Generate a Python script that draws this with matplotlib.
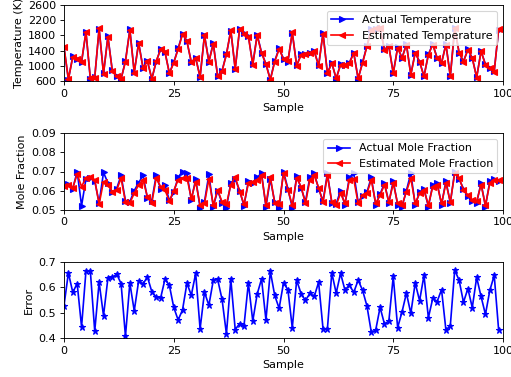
import numpy as np
import matplotlib
matplotlib.use("Agg")
import matplotlib.pyplot as plt

# values (100 samples)
samples = np.arange(100)

temp_est = [1500, 650, 1230, 1180, 1110, 1900, 670, 690, 1990, 790,
            1760, 870, 720, 660, 1110, 1940, 820, 1590, 940, 1120,
            660, 1120, 1430, 1360, 800, 1080, 1440, 1830, 1640, 1100,
            1200, 700, 1800, 1100, 1580, 720, 860, 1300, 1940, 910,
            1980, 1850, 1770, 1030, 1800, 1335, 1040, 630, 1110, 1440,
            1175, 1120, 1880, 1000, 1290, 1310, 1335, 1380, 1000, 1850,
            800, 1070, 670, 1030, 1030, 1070, 1330, 670, 1070, 1510,
            1950, 1990, 1990, 1420, 1510, 800, 1470, 1200, 1560, 760,
            1340, 1100, 720, 1290, 1560, 1200, 1070, 1560, 720, 2000,
            1340, 1110, 1420, 1200, 690, 1380, 1030, 940, 850, 1960]

temp_act = [1480, 640, 1250, 1190, 1100, 1880, 660, 700, 1970, 800,
            1780, 880, 730, 650, 1130, 1960, 830, 1610, 950, 1140,
            650, 1110, 1440, 1370, 810, 1090, 1460, 1850, 1650, 1090,
            1210, 710, 1810, 1110, 1600, 730, 870, 1310, 1920, 920,
            1960, 1860, 1790, 1040, 1820, 1350, 1050, 640, 1130, 1460,
            1190, 1110, 1870, 1010, 1300, 1320, 1350, 1390, 1010, 1870,
            810, 1080, 660, 1040, 1020, 1080, 1350, 660, 1090, 1520,
            1970, 1980, 2000, 1430, 1520, 810, 1490, 1210, 1570, 770,
            1350, 1110, 730, 1300, 1570, 1210, 1080, 1570, 730, 1990,
            1350, 1120, 1430, 1210, 700, 1390, 1040, 950, 860, 1950]

mole_est = [0.0624, 0.0630, 0.0615, 0.0686, 0.0620, 0.0668, 0.0673, 0.0656, 0.0528, 0.0647,
            0.0630, 0.0594, 0.0603, 0.0665, 0.0540, 0.0535, 0.0585, 0.0630, 0.0656, 0.0567,
            0.0535, 0.0665, 0.0620, 0.0603, 0.0544, 0.0600, 0.0656, 0.0665, 0.0668, 0.0558,
            0.0647, 0.0523, 0.0532, 0.0660, 0.0523, 0.0603, 0.0540, 0.0528, 0.0630, 0.0673,
            0.0594, 0.0528, 0.0638, 0.0647, 0.0656, 0.0680, 0.0523, 0.0673, 0.0532, 0.0527,
            0.0690, 0.0603, 0.0523, 0.0665, 0.0620, 0.0532, 0.0656, 0.0680, 0.0615, 0.0537,
            0.0680, 0.0540, 0.0523, 0.0585, 0.0532, 0.0656, 0.0660, 0.0532, 0.0576, 0.0585,
            0.0656, 0.0532, 0.0576, 0.0630, 0.0540, 0.0638, 0.0532, 0.0523, 0.0594, 0.0665,
            0.0532, 0.0585, 0.0603, 0.0523, 0.0620, 0.0630, 0.0532, 0.0638, 0.0540, 0.0690,
            0.0665, 0.0603, 0.0576, 0.0550, 0.0544, 0.0630, 0.0523, 0.0638, 0.0656, 0.0656]

mole_act = [0.0620, 0.0634, 0.0610, 0.0700, 0.0520, 0.0660, 0.0668, 0.0650, 0.0535, 0.0695,
            0.0640, 0.0590, 0.0610, 0.0680, 0.0545, 0.0540, 0.0600, 0.0640, 0.0680, 0.0560,
            0.0545, 0.0680, 0.0610, 0.0630, 0.0548, 0.0590, 0.0670, 0.0700, 0.0690, 0.0550,
            0.0660, 0.0510, 0.0540, 0.0685, 0.0515, 0.0600, 0.0535, 0.0510, 0.0640, 0.0660,
            0.0600, 0.0520, 0.0650, 0.0640, 0.0670, 0.0690, 0.0515, 0.0660, 0.0540, 0.0510,
            0.0700, 0.0610, 0.0510, 0.0675, 0.0615, 0.0540, 0.0670, 0.0690, 0.0610, 0.0545,
            0.0690, 0.0535, 0.0530, 0.0600, 0.0525, 0.0670, 0.0690, 0.0540, 0.0570, 0.0590,
            0.0670, 0.0525, 0.0580, 0.0640, 0.0535, 0.0650, 0.0525, 0.0515, 0.0600, 0.0690,
            0.0525, 0.0590, 0.0610, 0.0515, 0.0630, 0.0640, 0.0525, 0.0650, 0.0535, 0.0700,
            0.0660, 0.0610, 0.0570, 0.0545, 0.0535, 0.0640, 0.0515, 0.0650, 0.0660, 0.0650]

error = [0.528, 0.657, 0.580, 0.615, 0.444, 0.664, 0.664, 0.427, 0.620, 0.488,
         0.636, 0.639, 0.652, 0.615, 0.407, 0.617, 0.507, 0.625, 0.613, 0.641,
         0.583, 0.561, 0.557, 0.632, 0.608, 0.521, 0.471, 0.511, 0.616, 0.569,
         0.655, 0.436, 0.581, 0.529, 0.627, 0.631, 0.553, 0.416, 0.632, 0.433,
         0.457, 0.448, 0.617, 0.467, 0.573, 0.633, 0.471, 0.663, 0.568, 0.517,
         0.617, 0.591, 0.440, 0.628, 0.575, 0.548, 0.576, 0.564, 0.620, 0.437,
         0.436, 0.657, 0.577, 0.655, 0.589, 0.609, 0.580, 0.628, 0.589, 0.527,
         0.423, 0.431, 0.521, 0.455, 0.467, 0.643, 0.441, 0.503, 0.577, 0.497,
         0.617, 0.547, 0.647, 0.480, 0.556, 0.544, 0.591, 0.431, 0.449, 0.668,
         0.628, 0.541, 0.595, 0.520, 0.639, 0.564, 0.493, 0.588, 0.647, 0.433]

dpi = 80
fig, axes = plt.subplots(3, 1, figsize=(511/dpi, 377/dpi), dpi=dpi)
fig.subplots_adjust(left=64/511, right=503/511, top=1-5/377, bottom=1-338/377, hspace=0.69)

ax1, ax2, ax3 = axes

ax1.plot(samples, temp_act, 'b>-', label="Actual Temperature")
ax1.plot(samples, temp_est, 'r<-', label="Estimated Temperature")
ax1.set_ylim(600, 2600)
ax1.set_yticks(np.arange(600, 2601, 400))
ax1.set_ylabel("Temperature (K)")
ax1.legend(loc="upper right")

ax2.plot(samples, mole_act, 'b>-', label="Actual Mole Fraction")
ax2.plot(samples, mole_est, 'r<-', label="Estimated Mole Fraction")
ax2.set_ylim(0.05, 0.09)
ax2.set_yticks([0.05, 0.06, 0.07, 0.08, 0.09])
ax2.set_ylabel("Mole Fraction")
ax2.legend(loc="upper right")

ax3.plot(samples, error, 'b*-')
ax3.set_ylim(0.4, 0.7)
ax3.set_yticks([0.4, 0.5, 0.6, 0.7])
ax3.set_ylabel("Error")

for ax in axes:
    ax.set_xlim(0, 100)
    ax.set_xticks([0, 25, 50, 75, 100])
    ax.set_xlabel("Sample")

fig.savefig("out.png", dpi=dpi)
